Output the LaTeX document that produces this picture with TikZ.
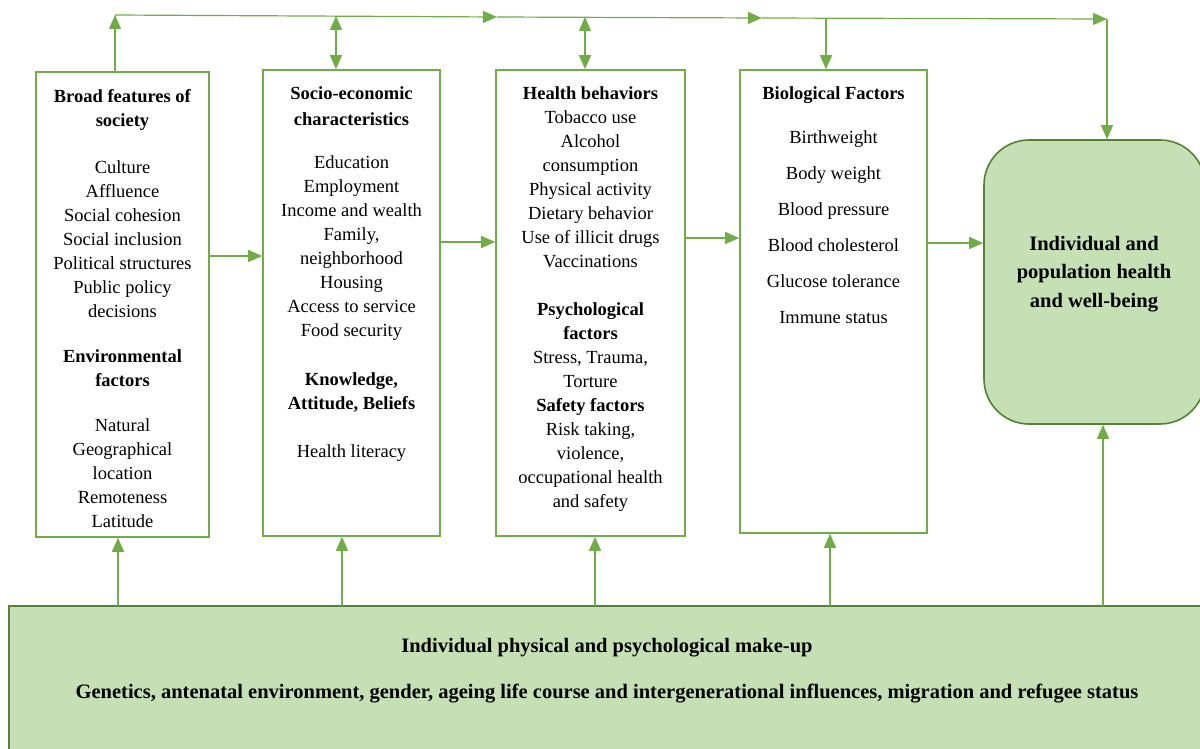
\documentclass[tikz,border=0pt]{standalone}
\usepackage{fontspec}
\setmainfont{Liberation Serif}
\usetikzlibrary{positioning,arrows.meta,calc}
\definecolor{linegreen}{RGB}{112,173,71}
\definecolor{panelgreen}{RGB}{197,224,180}
\definecolor{edgegreen}{RGB}{84,130,53}

\begin{document}
\begin{tikzpicture}[x=1pt,y=1pt,
  frame/.style={rectangle,draw=linegreen,line width=1.6pt,fill=white,inner sep=0pt},
  panel/.style={rectangle,draw=edgegreen,line width=1.6pt,fill=panelgreen,inner sep=0pt},
  txt/.style={align=center,inner sep=0pt,font=\fontsize{18.5}{24}\selectfont},
  bigtxt/.style={align=center,inner sep=0pt,font=\fontsize{20.5}{28.5}\selectfont\bfseries},
  arr/.style={-{Triangle[length=14pt,width=12pt]},linegreen,line width=1.2pt},
  darr/.style={{Triangle[length=14pt,width=12pt]}-{Triangle[length=14pt,width=12pt]},linegreen,line width=1.2pt}
]
\useasboundingbox (0,0) rectangle (1200,-749);

% boxes
\node[frame,minimum width=173pt,minimum height=465pt] (broad) at (122.5,-304.5) {};
\node[frame,minimum width=177pt,minimum height=466pt] (socio) at (351.5,-303) {};
\node[frame,minimum width=189pt,minimum height=466pt] (behav) at (590.5,-303) {};
\node[frame,minimum width=187pt,minimum height=463pt] (bio) at (833.5,-301.5) {};
\node[panel,rounded corners=45pt,minimum width=221pt,minimum height=284pt] (health) at (1094.5,-282) {};
\node[panel,minimum width=1201pt,minimum height=154pt] (makeup) at (609.5,-683) {};

% box texts
\node[txt,below=18pt of broad.north] (broadtxt) {\textbf{Broad features of}\\ \textbf{society}\\[23pt]
  Culture\\ Affluence\\ Social cohesion\\ Social inclusion\\ Political structures\\ Public policy\\ decisions\\[21pt]
  \textbf{Environmental}\\ \textbf{factors}\\[21pt]
  Natural\\ Geographical\\ location\\ Remoteness\\ Latitude};
\node[txt,below=17pt of socio.north] (sociotxt) {\textbf{Socio-economic}\\[2pt] \textbf{characteristics}\\[19pt]
  Education\\ Employment\\ Income and wealth\\ Family,\\ neighborhood\\ Housing\\ Access to service\\ Food security\\[25pt]
  \textbf{Knowledge,}\\ \textbf{Attitude, Beliefs}\\[24pt]
  Health literacy};
\node[txt,below=17pt of behav.north] (behavtxt) {\textbf{Health behaviors}\\ Tobacco use\\ Alcohol\\ consumption\\
  Physical activity\\ Dietary behavior\\ Use of illicit drugs\\ Vaccinations\\[24pt]
  \textbf{Psychological}\\ \textbf{factors}\\ Stress, Trauma,\\ Torture\\ \textbf{Safety factors}\\
  Risk taking,\\ violence,\\ occupational health\\ and safety};
\node[txt,below=17pt of bio.north] (biotxt) {\textbf{Biological Factors}\\[20pt]
  Birthweight\\[12pt] Body weight\\[12pt] Blood pressure\\[12pt] Blood cholesterol\\[12pt]
  Glucose tolerance\\[12pt] Immune status};
\node[bigtxt] (healthtxt) at (1094,-274) {Individual and\\ population health\\ and well-being};
\node[bigtxt,font=\fontsize{20.5}{25}\selectfont\bfseries] (makeuptxt) at (607,-670.5)
  {Individual physical and psychological make-up\\[21pt]
   Genetics, antenatal environment, gender, ageing life course and intergenerational influences, migration and refugee status};

% top line
\coordinate (tl) at (115,-15);
\coordinate (tm1) at (497,-17);
\coordinate (tm2) at (762,-18);
\coordinate (tr) at (1107,-19);
\coordinate (u2) at (336,-16);
\coordinate (u3) at (585,-17);
\coordinate (u4) at (826,-18);
\draw[arr] (tl) -- (tm1);
\draw[arr] (tm1) -- (tm2);
\draw[arr] (tm2) -- (tr);
\draw[arr] (broad.north -| tl) -- (tl);
\draw[darr] (u2) -- (u2 |- socio.north);
\draw[darr] (u3) -- (u3 |- behav.north);
\draw[arr] (u4) -- (u4 |- bio.north);
\draw[arr] (tr) -- (tr |- health.north);

% left to right
\coordinate (h1) at (0,-256);
\coordinate (h2) at (0,-242);
\coordinate (h3) at (0,-238);
\coordinate (h4) at (0,-243);
\draw[arr] (broad.east |- h1) -- (socio.west |- h1);
\draw[arr] (socio.east |- h2) -- (behav.west |- h2);
\draw[arr] (behav.east |- h3) -- (bio.west |- h3);
\draw[arr] (bio.east |- h4) -- (health.west |- h4);

% from the bottom panel
\coordinate (b1) at (118,-606);
\coordinate (b2) at (342,-606);
\coordinate (b3) at (595,-606);
\coordinate (b4) at (830,-606);
\coordinate (b5) at (1103,-606);
\draw[arr] (b1) -- (b1 |- broad.south);
\draw[arr] (b2) -- (b2 |- socio.south);
\draw[arr] (b3) -- (b3 |- behav.south);
\draw[arr] (b4) -- (b4 |- bio.south);
\draw[arr] (b5) -- (b5 |- health.south);
\end{tikzpicture}
\end{document}
